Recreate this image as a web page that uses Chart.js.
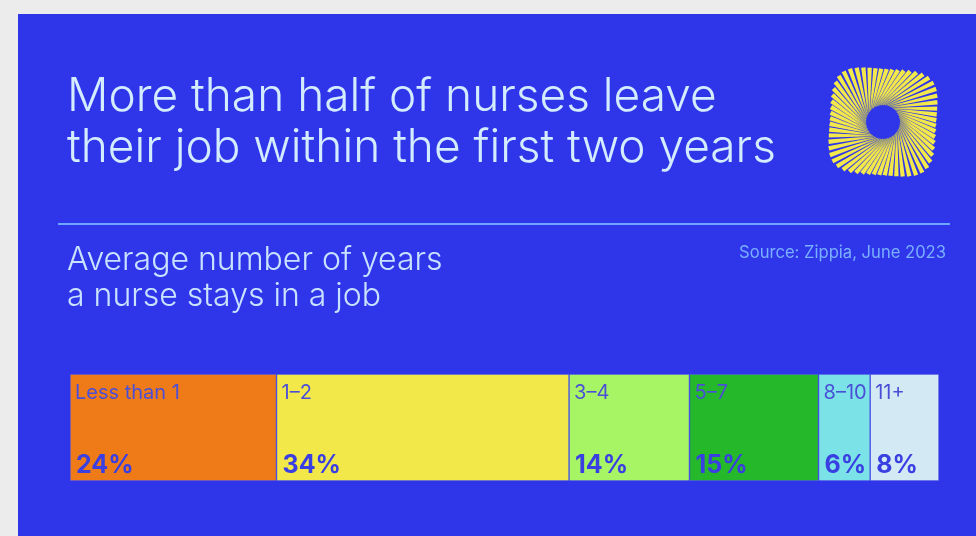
<!DOCTYPE html>
<html>
<head>
<meta charset="utf-8">
<script src="https://cdn.jsdelivr.net/npm/chart.js@4.4.0/dist/chart.umd.min.js"></script>
<style>
  html, body { margin: 0; padding: 0; }
  body { width: 976px; height: 536px; background: #ececec; position: relative; overflow: hidden; font-family: Inter, "Noto Sans", sans-serif; }
  #panel { position: absolute; left: 18px; top: 14px; width: 958px; height: 522px; background: #2f36ea; }
  #chart { position: absolute; left: 0; top: 0; }
  .txt { position: absolute; margin: 0; white-space: nowrap; }
  #title { left: 67px; top: 69px; font-size: 46px; font-weight: 300; line-height: 51px; color: #d4ecff; }
  #rule { position: absolute; left: 58px; top: 223px; width: 892px; height: 2px; background: #6ea6ff; }
  #sub { left: 67px; top: 241px; font-size: 32px; font-weight: 300; line-height: 36px; color: #c9e2ff; }
  #source { right: 30px; top: 242px; font-size: 16.6px; color: #7ab0ff; }
</style>
</head>
<body>
<div id="panel"></div>
<canvas id="chart" width="976" height="536"></canvas>
<p class="txt" id="title">More than half of nurses leave<br>their job within the first two years</p>
<div id="rule"></div>
<p class="txt" id="sub">Average number of years<br>a nurse stays in a job</p>
<p class="txt" id="source">Source: Zippia, June 2023</p>
<script>
var categorias = ['Less than 1', '1–2', '3–4', '5–7', '8–10', '11+']
var percentuais = [24, 34, 14, 15, 6, 8]
var cores = ['#ef7b18', '#f2e84a', '#a7f465', '#25b82b', '#7be3e8', '#d3e9f4']

// logo amarelo (espiral) desenhado antes do grafico
var logoPlugin = {
    id: 'logo',
    beforeDraw: function(chart) {
        var ctx = chart.ctx
        var cx = 883, cy = 122
        ctx.save()
        var n = 60
        for (var i = 0; i < n; i++) {
            var a = i / n * Math.PI * 2
            var b = a + 0.7
            var p = 4.5
            var r = 53 / Math.pow(Math.pow(Math.abs(Math.cos(b - 0.08)), p) + Math.pow(Math.abs(Math.sin(b - 0.08)), p), 1 / p)
            var x1 = cx + Math.cos(a) * 17, y1 = cy + Math.sin(a) * 17
            var x2 = cx + Math.cos(b) * r, y2 = cy + Math.sin(b) * r
            var dx = x2 - x1, dy = y2 - y1
            var len = Math.sqrt(dx * dx + dy * dy)
            var nx = -dy / len, ny = dx / len
            var g = ctx.createLinearGradient(x1, y1, x2, y2)
            g.addColorStop(0, '#a7a66a')
            g.addColorStop(0.35, '#efe44c')
            g.addColorStop(1, '#f4ea4a')
            ctx.fillStyle = g
            ctx.beginPath()
            ctx.moveTo(x1 + nx * 0.5, y1 + ny * 0.5)
            ctx.lineTo(x2 + nx * 2.2, y2 + ny * 2.2)
            ctx.lineTo(x2 - nx * 2.2, y2 - ny * 2.2)
            ctx.lineTo(x1 - nx * 0.5, y1 - ny * 0.5)
            ctx.closePath()
            ctx.fill()
        }
        ctx.restore()
    }
}

// rotulos dentro de cada segmento
var rotulosPlugin = {
    id: 'rotulos',
    afterDatasetsDraw: function(chart) {
        var ctx = chart.ctx
        ctx.save()
        chart.data.datasets.forEach(function(ds, i) {
            var el = chart.getDatasetMeta(i).data[0]
            var left = Math.min(el.base, el.x)
            var top = el.y - el.height / 2
            ctx.textAlign = 'left'
            ctx.textBaseline = 'alphabetic'
            ctx.fillStyle = '#4b4fd8'
            ctx.font = '400 20px Inter, "Noto Sans", sans-serif'
            ctx.fillText(categorias[i], left + 5, top + 25)
            ctx.fillStyle = '#3a3fe2'
            ctx.font = '700 25px Inter, "Noto Sans", sans-serif'
            ctx.fillText(percentuais[i] + '%', left + 6, top + 99)
        })
        ctx.restore()
    }
}

var datasets = categorias.map(function(c, i) {
    return {
        label: c,
        data: [percentuais[i]],
        backgroundColor: cores[i],
        borderColor: '#4a52e6',
        borderWidth: 1,
        borderSkipped: false,
        barPercentage: 1,
        categoryPercentage: 1
    }
})

var ctx = document.getElementById('chart').getContext('2d')
var grafico = new Chart(ctx, {
    type: 'bar',
    data: { labels: ['anos'], datasets: datasets },
    options: {
        indexAxis: 'y',
        responsive: false,
        animation: false,
        layout: { padding: { left: 70, right: 37, top: 374, bottom: 55 } },
        scales: {
            x: { stacked: true, display: false, min: 0, max: 101 },
            y: { stacked: true, display: false }
        },
        plugins: { legend: { display: false }, tooltip: { enabled: false } }
    },
    plugins: [logoPlugin, rotulosPlugin]
})
</script>
</body>
</html>
